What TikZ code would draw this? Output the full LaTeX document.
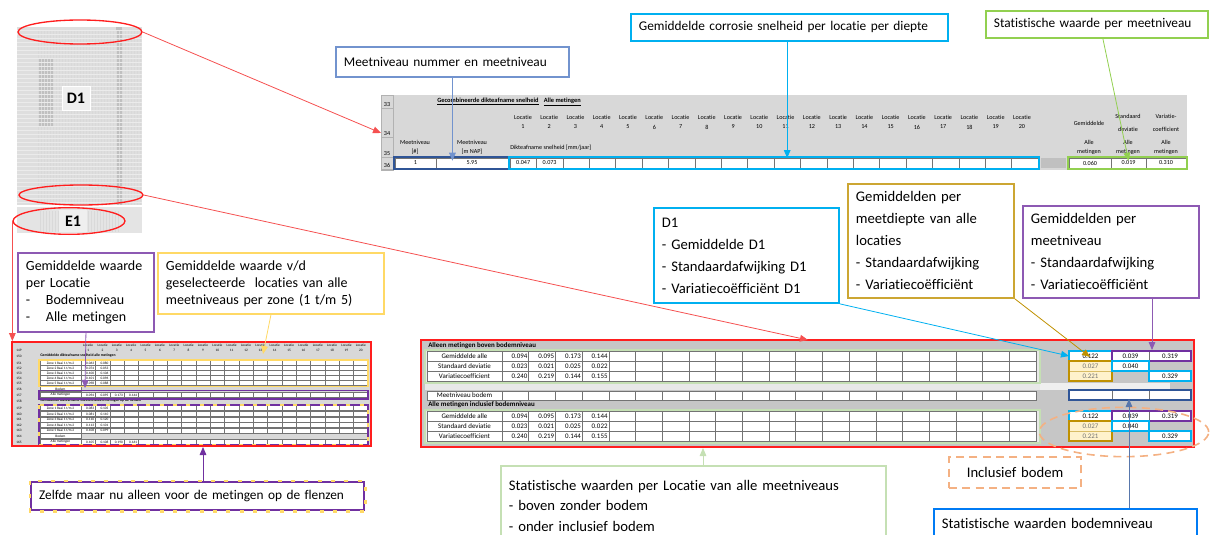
\documentclass[tikz,border=0pt]{standalone}
\usepackage{fontspec}
\setmainfont{Carlito}[Ligatures=NoCommon]
\usetikzlibrary{arrows.meta,calc,positioning,shapes.geometric}

\definecolor{leadred}{RGB}{245,80,80}
\definecolor{xlred}{RGB}{255,30,30}
\definecolor{sheetgray}{RGB}{216,216,216}
\definecolor{bandgray}{RGB}{192,192,192}
\definecolor{cyanb}{RGB}{0,176,240}
\definecolor{blueb}{RGB}{114,147,206}
\definecolor{navyb}{RGB}{47,85,151}
\definecolor{greenb}{RGB}{146,208,80}
\definecolor{palegreen}{RGB}{197,224,180}
\definecolor{goldb}{RGB}{191,144,0}
\definecolor{goldfill}{RGB}{255,242,204}
\definecolor{purpleb}{RGB}{112,48,160}
\definecolor{yellowb}{RGB}{255,217,102}
\definecolor{orangeb}{RGB}{244,177,131}

\begin{document}
\begin{tikzpicture}[
  x=0.75pt, y=-0.75pt,
  note/.style={draw, line width=1.4pt, fill=white, align=left, anchor=north west,
    inner xsep=6pt, inner ysep=0pt, font=\fontsize{11}{16.5}\selectfont},
  cell/.style={draw=black!55, fill=white, line width=0.35pt},
  sheet/.style={font=\fontsize{4.6}{5}\selectfont, inner sep=0pt},
  mini/.style={font=\fontsize{2.6}{3}\selectfont, inner sep=0pt},
  hilite/.style={line width=1.3pt},
  lead/.style={-{Triangle[length=6pt,width=5pt]}, line width=0.6pt},
  zoomring/.style={draw=xlred, line width=1pt, ellipse, inner sep=0pt},
]

% --- frame ---
\useasboundingbox (0,0) rectangle (1211,535);
\clip (0,0) rectangle (1211,535);

% --- parameters ---
\def\colw{26.4}    % location column, top sheet
\def\rcolw{26.7}   % location column, summary sheet
\def\lcolw{14.35}  % location column, zone sheet

% --- overview thumbnail ---
\fill[sheetgray!85] (17,27) rectangle (142,205);
\fill[bandgray] (38,58) rectangle (53,126);
\fill[bandgray] (116,27) rectangle (122,205);
\foreach \x in {38,41,...,140}
  \draw[black!15, line width=0.2pt] (\x,30) -- (\x,205);
\foreach \y in {30,34,...,205}
  \draw[black!8, line width=0.2pt] (17,\y) -- (142,\y);
\fill[sheetgray!70] (17,207) rectangle (142,233);
\foreach \x in {40,43,...,118}
  \draw[black!15, line width=0.2pt] (\x,211) -- (\x,232);
\node[draw=white, fill=sheetgray!40, font=\bfseries\fontsize{12}{12}\selectfont,
  minimum width=21pt, minimum height=18pt, inner sep=0pt] (d1lbl) at (76,98) {D1};
\node[fill=sheetgray!40, font=\bfseries\fontsize{12}{12}\selectfont,
  minimum width=21pt, minimum height=16pt, inner sep=0pt] (e1lbl) at (73,221) {E1};

\node[zoomring, minimum width=93pt, minimum height=18pt] (ringtop) at (80,32) {};
\node[zoomring, minimum width=93pt, minimum height=15pt] (ringmid) at (81,195) {};
\node[zoomring, minimum width=84pt, minimum height=20pt] (ringe1) at (69,221) {};

% --- top sheet (rows 33-36) ---
\fill[sheetgray] (381,95) rectangle (1187,170);
\draw[black!30, line width=0.3pt] (381,95) rectangle (393,170);
\foreach \r/\yy in {33/108, 34/137, 35/157, 36/169}{
  \draw[black!30, line width=0.3pt] (381,\yy) -- (393,\yy);
  \node[sheet, anchor=south] at (387,{\yy-1.5}) {\r};
}
\node[sheet, anchor=west, font=\bfseries\fontsize{4.8}{5}\selectfont] (toptitle) at (437,102)
  {\underline{Gecombineerde dikteafname snelheid}\hspace{4pt}\underline{Alle metingen}};
\foreach \i in {1,...,20}{
  \pgfmathsetmacro\cx{523+(\i-1)*26.26}
  \node[sheet] at (\cx,117) {Locatie};
  \node[sheet] at (\cx,127) {\i};
}
\node[sheet] at (415,142) {Meetniveau};
\node[sheet] at (415,152) {[\#]};
\node[sheet] at (472,142) {Meetniveau};
\node[sheet] at (472,152) {[m NAP]};
\node[sheet, anchor=west] at (510,148) {Dikteafname snelheid [mm/jaar]};
\node[sheet] at (1089,123) {Gemiddelde};
\node[sheet] at (1128,116) {Standaard};
\node[sheet] at (1128,129) {deviatie};
\node[sheet] at (1166,116) {Variatie-};
\node[sheet] at (1166,129) {coefficient};
\foreach \cx in {1089,1128,1166}{
  \node[sheet] at (\cx,142) {Alle};
  \node[sheet] at (\cx,152) {metingen};
}

% row 36
\draw[cell] (395,158) rectangle (436,168);
\draw[cell] (436,158) rectangle (508,168);
\node[sheet] (nivnr) at (415.5,163) {1};
\node[sheet] (nivnap) at (472,163) {5.95};
\foreach \i in {1,...,20}{
  \pgfmathsetmacro\lx{510+(\i-1)*\colw}
  \draw[cell] (\lx,158) rectangle ({\lx+\colw},168);
  \coordinate (loc\i) at ({\lx+\colw/2},158);
}
\node[sheet] at (523.2,163) {0.047};
\node[sheet] at (549.6,163) {0.073};
\fill[bandgray] (1041,158) rectangle (1066,168);
\draw[cell] (1069,158) rectangle (1111,168);
\draw[cell] (1111,158) rectangle (1146,168);
\draw[cell] (1146,158) rectangle (1186,168);
\node[sheet] (topavg) at (1090,163) {0.060};
\node[sheet] (topsd) at (1128.5,163) {0.019};
\node[sheet] (topvc) at (1166,163) {0.310};
\draw[navyb, hilite] (394,157) rectangle (509,169);
\draw[cyanb, hilite] (509,157) rectangle (1039,169);
\draw[greenb, hilite] (1068,157) rectangle (1187,169);

% --- summary sheet (right) ---
\fill[bandgray!90] (421,340) rectangle (1194,447);
\fill[sheetgray!60] (425,350) rectangle (1040,390);
\fill[sheetgray!40] (1040,383) rectangle (1170,390);
\fill[sheetgray!60] (425,410) rectangle (1040,443);
\node[sheet, anchor=west, font=\bfseries\fontsize{5.2}{6}\selectfont] at (428,345.5)
  {Alleen metingen boven bodemniveau};
\node[sheet, anchor=west, font=\bfseries\fontsize{5.2}{6}\selectfont] at (428,405)
  {Alle metingen inclusief bodemniveau};
\foreach \yt in {351,411}{
  \foreach \r/\lbl/\va/\vb/\vc/\vd in {0/Gemiddelde alle/0.094/0.095/0.173/0.144,
      1/Standaard deviatie/0.023/0.021/0.025/0.022,
      2/Variatiecoefficient/0.240/0.219/0.144/0.155}{
    \pgfmathsetmacro\ry{\yt+\r*10}
    \draw[cell] (427,\ry) rectangle (502,{\ry+10});
    \node[sheet, font=\fontsize{5.2}{6}\selectfont] at (464.5,{\ry+5}) {\lbl};
    \foreach \j in {1,...,20}
      \draw[cell] ({502+(\j-1)*\rcolw},\ry) rectangle ({502+\j*\rcolw},{\ry+10});
    \foreach \j/\v in {1/\va,2/\vb,3/\vc,4/\vd}
      \node[sheet, anchor=east, font=\fontsize{5.2}{6}\selectfont] at ({502+\j*\rcolw-1},{\ry+5}) {\v};
  }
}
\draw[cell] (427,391) rectangle (502,400);
\node[sheet, font=\fontsize{5.2}{6}\selectfont] at (464.5,395.5) {Meetniveau bodem};
\foreach \j in {1,...,20}
  \draw[cell] ({502+(\j-1)*\rcolw},391) rectangle ({502+\j*\rcolw},400);
\draw[palegreen, line width=1.6pt] (425,350) rectangle (1040,383);
\draw[palegreen, line width=1.6pt] (425,410) rectangle (1040,443);

% statistics block, above and below
\foreach \yt in {351,411}{
  \draw[cell] (1069,\yt) rectangle (1112,{\yt+10});
  \draw[cell] (1112,\yt) rectangle (1149,{\yt+10});
  \draw[cell] (1149,\yt) rectangle (1191,{\yt+10});
  \draw[cell, fill=goldfill] (1069,{\yt+10}) rectangle (1112,{\yt+30});
  \draw[goldb!60, line width=0.3pt] (1069,{\yt+20}) -- (1112,{\yt+20});
  \draw[cell] (1112,{\yt+10}) rectangle (1149,{\yt+20});
  \draw[cell] (1149,{\yt+20}) rectangle (1191,{\yt+30});
  \node[sheet, font=\fontsize{5.2}{6}\selectfont] at (1090.5,{\yt+5}) {0.122};
  \node[sheet, font=\fontsize{5.2}{6}\selectfont] at (1130.5,{\yt+5}) {0.039};
  \node[sheet, font=\fontsize{5.2}{6}\selectfont] at (1170,{\yt+5}) {0.319};
  \node[sheet, text=black!55, font=\fontsize{5.2}{6}\selectfont] at (1090.5,{\yt+15}) {0.027};
  \node[sheet, font=\fontsize{5.2}{6}\selectfont] at (1130.5,{\yt+15}) {0.040};
  \node[sheet, text=black!55, font=\fontsize{5.2}{6}\selectfont] at (1090.5,{\yt+25}) {0.221};
  \node[sheet, font=\fontsize{5.2}{6}\selectfont] at (1170,{\yt+25}) {0.329};
  \draw[cyanb, hilite] (1069,\yt) rectangle (1112,{\yt+10});
  \draw[purpleb, hilite] (1112,\yt) rectangle (1191,{\yt+10});
  \draw[goldb, hilite] (1069,{\yt+10}) rectangle (1112,{\yt+30});
  \draw[cyanb, hilite] (1112,{\yt+10}) rectangle (1149,{\yt+20});
  \draw[cyanb, hilite] (1149,{\yt+20}) rectangle (1191,{\yt+30});
}
\draw[cell] (1069,390) rectangle (1112,400);
\draw[cell] (1112,390) rectangle (1149,400);
\draw[cell] (1149,390) rectangle (1191,400);
\draw[navyb, hilite] (1069,390) rectangle (1191,400);
\coordinate (avgcell) at (1069,356);
\coordinate (depthcell) at (1090,357);
\coordinate (levelcell) at (1152,350);
\coordinate (bodemcell) at (1129,399);
\draw[xlred, line width=1.3pt] (421,340) rectangle (1194,447);
\node[ellipse, draw=orangeb, dashed, line width=1.2pt, dash pattern=on 6pt off 4pt,
  minimum width=127pt, minimum height=37pt] (bodemring) at (1124,432) {};

% --- zone sheet (left) ---
\fill[sheetgray] (12,342) rectangle (371,446);
\foreach \r/\ry in {149/350,150/356,151/363,152/368,153/373,154/378,155/383,156/389,
    157/395,158/401,159/408,160/414,161/419.5,162/425,163/430.5,164/436,165/442}
  \node[mini] at (19,\ry) {\r};
\foreach \i in {1,...,20}{
  \pgfmathsetmacro\cx{81+(\i-0.5)*\lcolw}
  \node[mini] at (\cx,345) {Locatie};
  \node[mini] at (\cx,350) {\i};
}
\node[mini, anchor=west, font=\bfseries\fontsize{2.8}{3}\selectfont] at (40,356)
  {Gemiddelde dikteafname snelheid alle metingen};
\node[mini, anchor=west, font=\bfseries\fontsize{2.8}{3}\selectfont] at (40,401)
  {Gemiddelde dikteafname snelheid alleen metingen op de flenzen};
\foreach \ry/\z/\va/\vb in {363/1/0.063/0.080, 368/2/0.074/0.053, 373/3/0.100/0.106,
    378/4/0.101/0.096, 383/5/0.098/0.088,
    408/1/0.083/0.105, 414/2/0.081/0.110, 419.5/3/0.110/0.120,
    425/4/0.113/0.101, 430.5/5/0.108/0.099}{
  \draw[cell, line width=0.25pt] (40,{\ry-2.5}) rectangle (81,{\ry+2.5});
  \foreach \j in {1,...,20}
    \draw[cell, line width=0.25pt] ({81+(\j-1)*\lcolw},{\ry-2.5}) rectangle ({81+\j*\lcolw},{\ry+2.5});
  \node[mini] at (60.5,\ry) {Zone \z{} Raai 1 t{/}m 2};
  \node[mini, anchor=east] at ({81+\lcolw-1},\ry) {\va};
  \node[mini, anchor=east] at ({81+2*\lcolw-1},\ry) {\vb};
}
\foreach \ry/\va/\vb/\vc/\vd in {395/0.094/0.095/0.173/0.144, 442/0.105/0.108/0.190/0.161}{
  \draw[cell, line width=0.25pt] (40,{\ry-2.5}) rectangle (81,{\ry+2.5});
  \foreach \j in {1,...,20}
    \draw[cell, line width=0.25pt] ({81+(\j-1)*\lcolw},{\ry-2.5}) rectangle ({81+\j*\lcolw},{\ry+2.5});
  \node[mini] at (60.5,\ry) {Alle metingen};
  \foreach \j/\v in {1/\va,2/\vb,3/\vc,4/\vd}
    \node[mini, anchor=east] at ({81+\j*\lcolw-1},\ry) {\v};
}
\foreach \ry in {389,436}{
  \draw[cell, line width=0.25pt] (40,{\ry-2.5}) rectangle (81,{\ry+2.5});
  \node[mini] at (60.5,\ry) {Bodem};
}
\draw[yellowb, hilite] (39,360) rectangle (368,386.5);
\draw[purpleb, hilite] (39,390.5) rectangle (368,399);
\draw[purpleb, line width=1.8pt] (39,405) rectangle (368,445);
\draw[yellowb, line width=1.8pt, dash pattern=on 3pt off 7pt] (39,405) rectangle (368,445);
\draw[xlred, line width=1.1pt] (12,342) rectangle (371,446);
\coordinate (zonecell) at (263,354);
\coordinate (allecell) at (85,388);
\coordinate (flenscell) at (203,447);

% --- callouts ---
\node[note, draw=blueb, font=\fontsize{10}{12}\selectfont, text width=162.75pt,
  minimum height=22.5pt] (meetnote) at (335,46) {Meetniveau nummer en meetniveau};
\node[note, draw=cyanb, font=\fontsize{10}{12}\selectfont, text width=225.75pt,
  minimum height=20.25pt] (corrnote) at (630,13) {Gemiddelde corrosie snelheid per locatie per diepte};
\node[note, draw=greenb, font=\fontsize{10}{12}\selectfont, text width=154.5pt,
  minimum height=20.25pt] (statnote) at (985,10) {Statistische waarde per meetniveau};

\node[note, draw=cyanb, text width=126.75pt, minimum height=71.25pt] (d1note) at (653,207)
  {D1\\- Gemiddelde D1\\- Standaardafwijking D1\\- Variatiecoëfficiënt D1};
\node[note, draw=goldb!80, text width=112.5pt, minimum height=85.5pt] (depthnote) at (847,183)
  {Gemiddelden per\\meetdiepte van alle\\locaties\\- Standaardafwijking\\- Variatiecoëfficiënt};
\node[note, draw=purpleb!80, text width=120pt, minimum height=69pt] (levelnote) at (1022,205)
  {Gemiddelden per\\meetniveau\\- Standaardafwijking\\- Variatiecoëfficiënt};

\node[note, draw=purpleb!80, font=\fontsize{10.5}{12.75}\selectfont, text width=90pt,
  minimum height=59.25pt] (bodemnote) at (17,252)
  {Gemiddelde waarde\\per Locatie\\\makebox[15pt][l]{-}Bodemniveau\\\makebox[15pt][l]{-}Alle metingen};
\node[note, draw=yellowb, font=\fontsize{10.5}{12.75}\selectfont, text width=157.5pt,
  minimum height=45.75pt] (zonenote) at (157,252)
  {Gemiddelde waarde v/d\\geselecteerde\ \ locaties van alle\\meetniveaus per zone (1 t/m 5)};
\node[note, draw=purpleb, line width=1.8pt, font=\fontsize{10}{12}\selectfont, text width=237.75pt,
  minimum height=21pt] (flensnote) at (30,481) {Zelfde maar nu alleen voor de metingen op de flenzen};
\draw[yellowb, line width=1.8pt, dash pattern=on 3pt off 7pt]
  (flensnote.north west) rectangle (flensnote.south east);

\node[note, draw=palegreen, font=\fontsize{11}{15.4}\selectfont, text width=276.75pt,
  minimum height=60pt] (locnote) at (500,465)
  {Statistische waarden per Locatie van alle meetniveaus\\- boven zonder bodem\\- onder inclusief bodem};
\node[note, draw=orangeb, dashed, line width=1.6pt, dash pattern=on 6pt off 4pt, align=center,
  text width=87pt, minimum height=23.25pt] (inclnote) at (948,456) {Inclusief bodem};
\node[note, draw=cyanb!70!blue, text width=185pt, minimum height=22.5pt] (bodemlvl) at (933,508)
  {Statistische waarden bodemniveau};

% --- connectors ---
\draw[lead, leadred] (ringtop.east) -- (381,133);
\draw[lead, leadred] (ringmid.east) -- (808,340);
\draw[lead, leadred] (ringe1.west) -- (ringe1.west |- 0,341);

\draw[lead, blueb] (meetnote.south) -- (meetnote.south |- nivnap.north);
\draw[lead, cyanb] (corrnote.south -| loc11) -- (loc11);
\draw[lead, greenb] ($(statnote.south)+(6,0)$) -- (topsd.north);

\draw[lead, cyanb] (d1note.south east) -- (avgcell);
\draw[lead, goldb] (depthnote.south east) -- (depthcell);
\draw[lead, purpleb!80] (levelnote.south -| levelcell) -- (levelcell);

\draw[lead, purpleb!80] (bodemnote.south) -- (allecell);
\draw[lead, yellowb] (zonenote.south) -- (zonecell);
\draw[lead, purpleb] (flensnote.north -| flenscell) -- (flenscell);

\draw[lead, palegreen] (locnote.north -| 703,0) -- (703,448);
\draw[lead, navyb!80] (bodemlvl.north -| bodemcell) -- (bodemcell);

\end{tikzpicture}
\end{document}
